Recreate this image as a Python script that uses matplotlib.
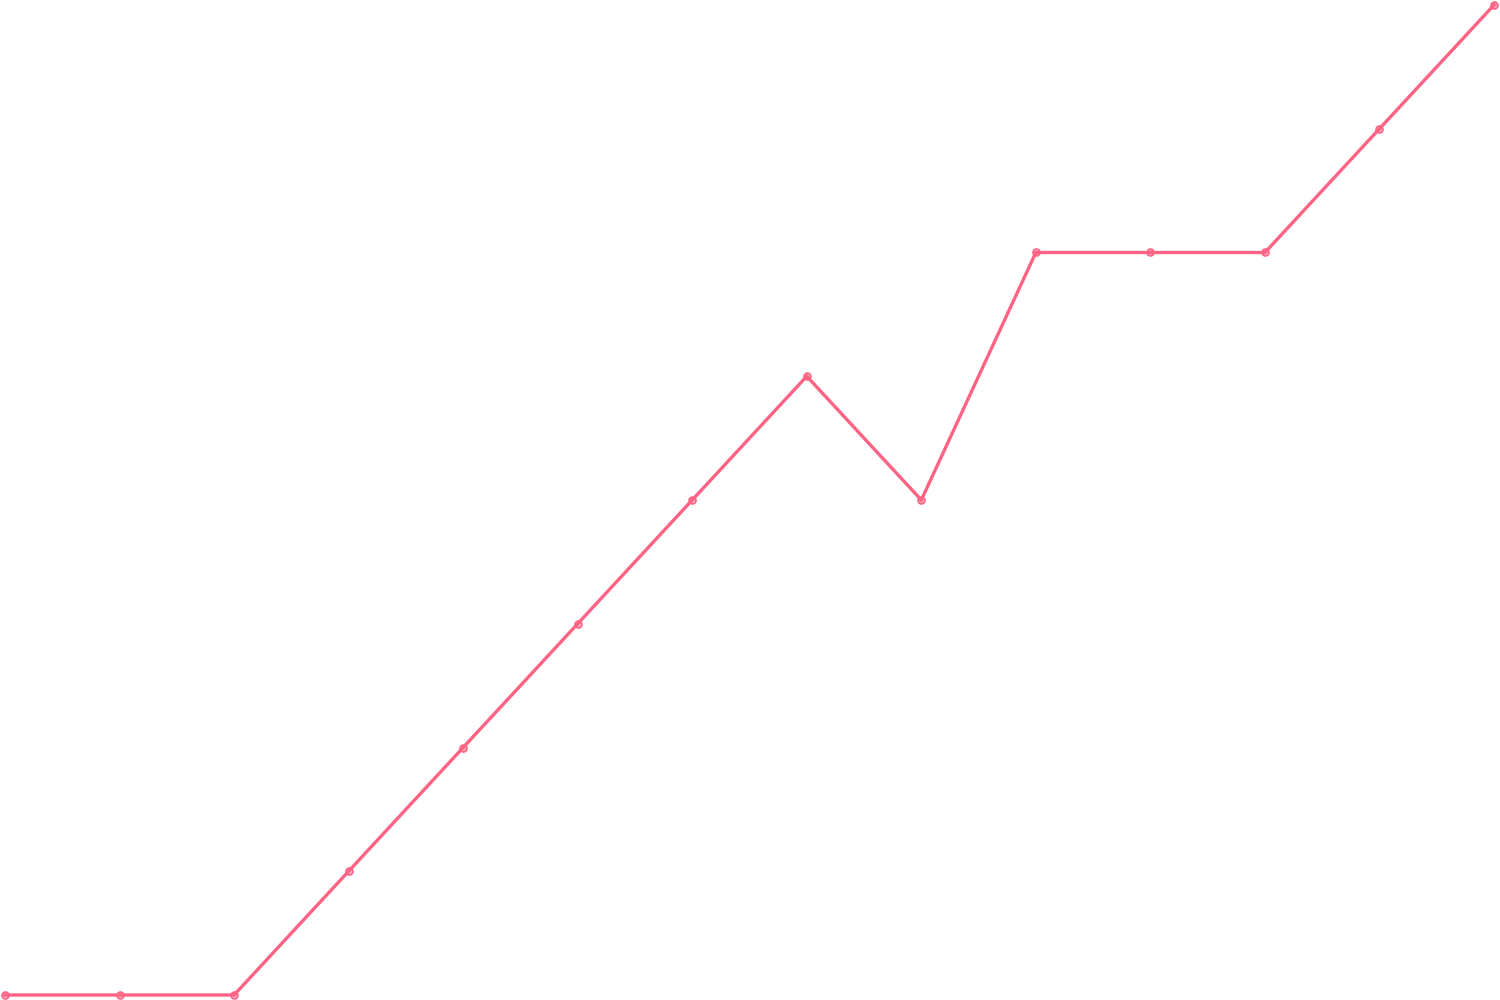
import matplotlib
matplotlib.use("Agg")
import matplotlib.pyplot as plt

labels = list(range(14))
values = [0, 0, 0, 1, 2, 3, 4, 5, 4, 6, 6, 6, 7, 8]

fig = plt.figure(figsize=(15, 10), dpi=100)
ax = fig.add_axes([0, 0, 1, 1])
ax.plot(labels, values, color="#FF6384", linewidth=2.4,
        marker="o", markersize=5, markerfacecolor=(1, 0.39, 0.52, 0.5),
        markeredgecolor="#FF6384", markeredgewidth=1.2, solid_joinstyle="miter")
dx = 13 / 1489
dy = 8 / 990
ax.set_xlim(-5 * dx, 13 + 6 * dx)
ax.set_ylim(-5 * dy, 8 + 5 * dy)
ax.axis("off")
fig.savefig("out.png", dpi=100, facecolor="white")
